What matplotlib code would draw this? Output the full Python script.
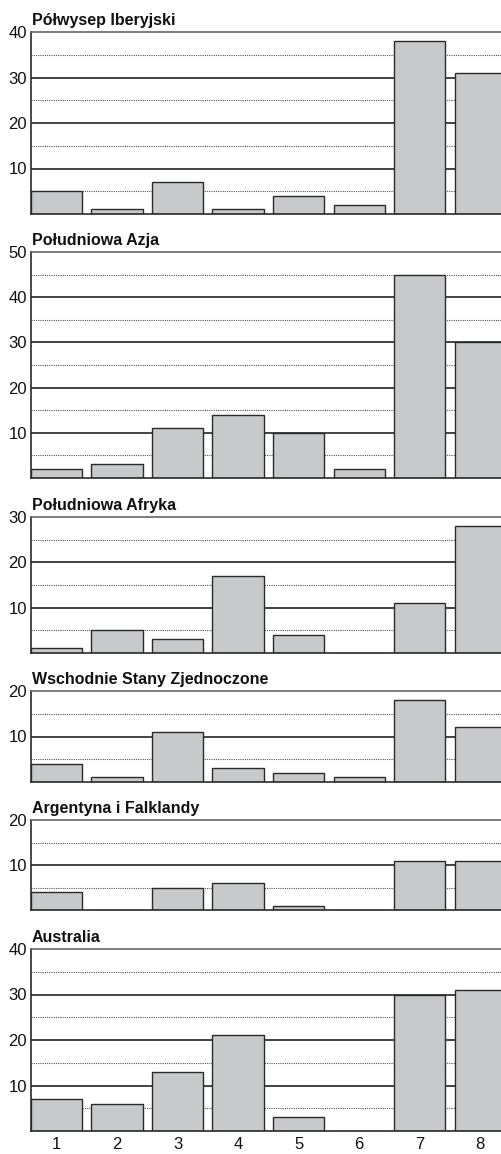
import matplotlib
matplotlib.use("Agg")
import matplotlib.pyplot as plt

plt.rcParams['font.family'] = ['Liberation Sans', 'DejaVu Sans']

categories = [1, 2, 3, 4, 5, 6, 7, 8]

regions = [
    "Półwysep Iberyjski",
    "Południowa Azja",
    "Południowa Afryka",
    "Wschodnie Stany Zjednoczone",
    "Argentyna i Falklandy",
    "Australia",
]

iberia = [5, 1, 7, 1, 4, 2, 38, 31]
south_asia = [2, 3, 11, 14, 10, 2, 45, 30]
south_africa = [1, 5, 3, 17, 4, 0, 11, 28]
eastern_us = [4, 1, 11, 3, 2, 1, 18, 12]
argentina = [4, 0, 5, 6, 1, 0, 11, 11]
australia = [7, 6, 13, 21, 3, 0, 30, 31]

series = [iberia, south_asia, south_africa, eastern_us, argentina, australia]
y_max = [40, 50, 30, 20, 20, 40]

W, H = 502, 1154
fig = plt.figure(figsize=(W / 100, H / 100), dpi=100)

# panel extents in pixels (top, bottom)
extents = [(32, 214), (252, 478), (517, 653), (691, 782), (820, 910), (949, 1131)]
left_px = 31
right_px = 512          # the last bar runs past the edge of the figure
px_per_unit = 60.55

bar_color = "#c8c9cb"
edge_color = "#2a2a2a"

for i, (name, vals, ymax, (top, bot)) in enumerate(zip(regions, series, y_max, extents)):
    ax = fig.add_axes([left_px / W, 1 - bot / H, (right_px - left_px) / W, (bot - top) / H])
    x0 = 0.58
    ax.set_xlim(x0, x0 + (right_px - left_px) / px_per_unit)
    ax.set_ylim(0, ymax)

    # solid lines at the labelled values, dotted lines halfway between
    for v in range(10, ymax, 10):
        ax.axhline(v, color="#111111", lw=1.1, zorder=1)
    for v in range(5, ymax, 10):
        ax.axhline(v, color="#555555", lw=0.8, ls=(0, (1, 1)), zorder=1)

    ax.bar(categories, vals, width=0.847, color=bar_color, edgecolor=edge_color,
           linewidth=1.0, zorder=2)

    ax.set_yticks(list(range(10, ymax + 1, 10)))
    ax.tick_params(axis="y", length=0, pad=3, labelsize=12, colors="#111111")

    if i == len(regions) - 1:
        ax.set_xticks(categories)
        ax.tick_params(axis="x", length=0, pad=4, labelsize=12, colors="#111111")
    else:
        ax.set_xticks([])

    ax.spines["right"].set_visible(False)
    ax.spines["top"].set_color("#666666")
    ax.spines["top"].set_linewidth(1.2)
    for s in ("left", "bottom"):
        ax.spines[s].set_color("#2a2a2a")
        ax.spines[s].set_linewidth(1.2)

    fig.text(left_px / W + 0.002, 1 - (top - 7) / H, name, fontsize=11.5,
             fontweight="bold", ha="left", va="baseline", color="#111111")

fig.savefig("out.png", dpi=100)
